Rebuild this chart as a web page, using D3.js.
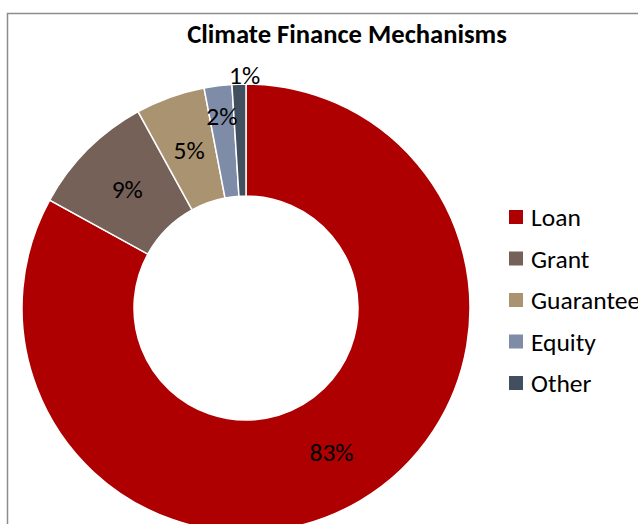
<!DOCTYPE html>
<html><head><meta charset="utf-8">
<script src="https://cdn.jsdelivr.net/npm/d3@7"></script>
<style>html,body{margin:0;padding:0;background:#fff;overflow:hidden}</style>
</head><body>
<svg id="c" width="638" height="524"></svg>
<script>
const categories = ["Loan", "Grant", "Guarantee", "Equity", "Other"];
const values = [83, 9, 5, 2, 1];
const colors = ["#AE0000", "#756158", "#AA9370", "#7F8CA8", "#424F5F"];
const title = "Climate Finance Mechanisms";

const font = "Carlito, Lato, 'Open Sans', sans-serif";
const svg = d3.select("#c");
// frame
svg.append("rect").attr("x", 7.5).attr("y", 13.5).attr("width", 700).attr("height", 600)
  .attr("fill", "#fff").attr("stroke", "#8c8c8c").attr("stroke-width", 1.5);

svg.append("text").attr("x", 347).attr("y", 43).attr("text-anchor", "middle")
  .attr("font-family", font).attr("font-weight", "bold").attr("font-size", 26.6)
  .attr("fill", "#000").text(title);

const cx = 246, cy = 308, R = 224, r = 112;
const data = categories.map((c, i) => ({ c, v: values[i], col: colors[i] }));
const pie = d3.pie().value(d => d.v).sort(null);
const arc = d3.arc().innerRadius(r).outerRadius(R);
const g = svg.append("g").attr("transform", `translate(${cx},${cy})`);
const arcs = pie(data);
g.selectAll("path").data(arcs).join("path")
  .attr("d", arc).attr("fill", d => d.data.col)
  .attr("stroke", "#fff").attr("stroke-width", 1.5);

const total = d3.sum(values);
g.selectAll("text").data(arcs).join("text")
  .attr("transform", d => {
    const a = (d.startAngle + d.endAngle) / 2;
    const share = d.data.v / total;
    let rad = (r + R) / 2, dx = 0;
    if (share <= 0.01) { rad = R + 9; dx = 6; }
    else if (share <= 0.02) rad = R - 31;
    return `translate(${Math.sin(a) * rad + dx},${-Math.cos(a) * rad})`;
  })
  .attr("text-anchor", "middle").attr("dy", "0.34em")
  .attr("font-family", font).attr("font-size", 25.5).attr("fill", "#000")
  .text(d => Math.round(d.data.v / total * 100) + "%");

const leg = svg.append("g").attr("transform", "translate(509,210)");
const rows = leg.selectAll("g").data(data).join("g")
  .attr("transform", (d, i) => `translate(0,${i * 41.5})`);
rows.append("rect").attr("width", 14).attr("height", 14).attr("fill", d => d.col);
rows.append("text").attr("x", 22).attr("y", 16)
  .attr("font-family", font).attr("font-size", 25.5).attr("fill", "#000")
  .text(d => d.c);
</script>
</body></html>
